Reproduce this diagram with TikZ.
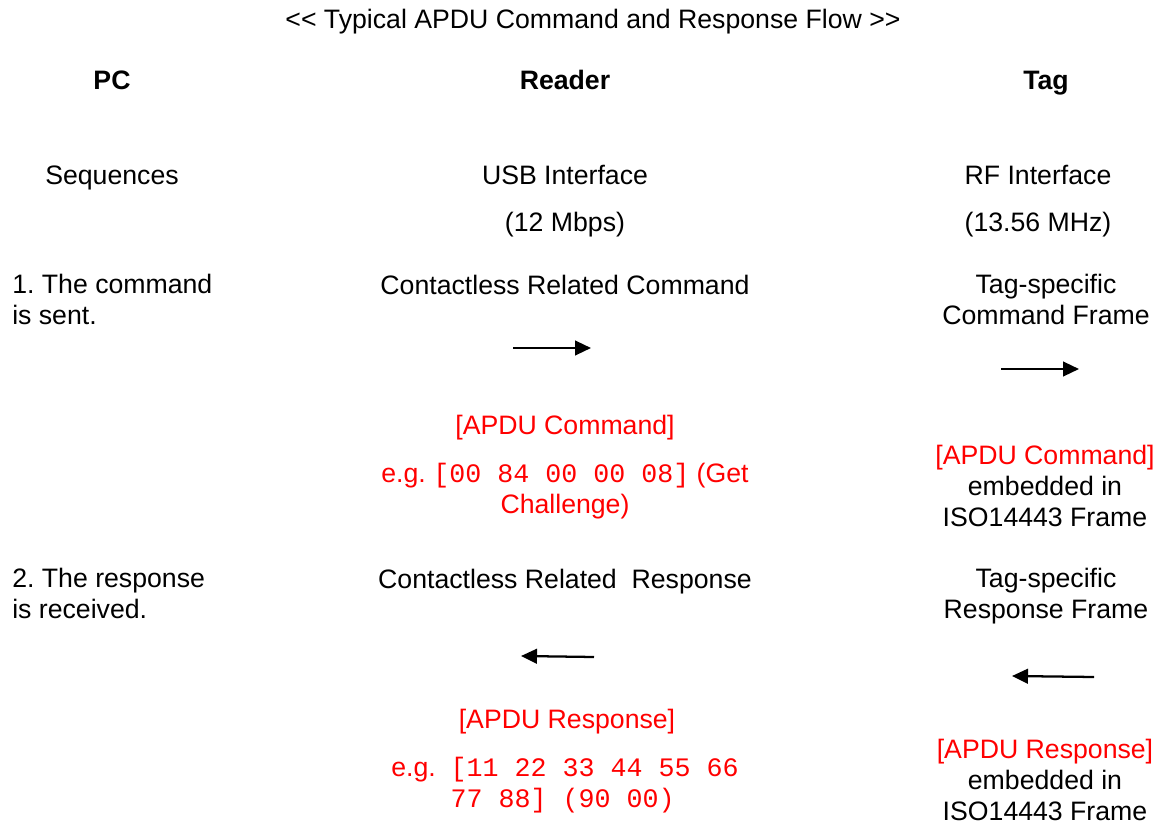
\documentclass[tikz,border=0pt]{standalone}
\usepackage{fontspec}
\setmainfont{Liberation Sans}
\setmonofont{Liberation Mono}
\usetikzlibrary{arrows.meta}
\definecolor{apduRed}{HTML}{FF0000}
\frenchspacing

\begin{document}
\begin{tikzpicture}[x=0.75pt,y=-0.75pt,>={Triangle[length=12pt,width=11pt]},
  txt/.style={font=\fontsize{20}{23.2}\selectfont,inner sep=0pt,anchor=base,align=center},
  hd/.style={txt,font=\fontsize{20}{23.2}\selectfont\bfseries},
  apdu/.style={txt,text=apduRed},
  flow/.style={line width=1.7pt,->}]
  \useasboundingbox (0,0) rectangle (1161,824);
  \node[txt] (title) at (593,29) {\textless\kern0pt\textless\ Typical APDU Command and Response Flow \textgreater\kern0pt\textgreater};
  \node[hd] (pc) at (112,90) {PC};
  \node[hd] (reader) at (565,90) {Reader};
  \node[hd] (tag) at (1046,90) {Tag};
  \node[txt] (seq) at (112,184) {Sequences};
  \node[txt] (usb) at (565,184) {USB Interface};
  \node[txt] (rf) at (1038,184) {RF Interface};
  \node[txt] (usbrate) at (565,231) {(12 Mbps)};
  \node[txt] (rffreq) at (1038,231) {(13.56 MHz)};
  \node[txt,anchor=base west,align=left] (step1) at (12,324) {1. The command\\is sent.};
  \node[txt] (cmd) at (565,294) {Contactless Related Command};
  \node[txt] (tagcmd) at (1046,324) {Tag-specific\\Command Frame};
  \node[apdu] (apducmd) at (565,434) {[APDU Command]};
  \node[apdu] (egcmd) at (565,513) {e.g. \texttt{[00 84 00 00 08]} (Get\\Challenge)};
  \node[txt] (tagapducmd) at (1045,526) {\textcolor{apduRed}{[APDU Command]}\\embedded in\\ISO14443 Frame};
  \node[txt,anchor=base west,align=left] (step2) at (12,618) {2. The response\\is received.};
  \node[txt] (rsp) at (565,588) {Contactless Related\ \ Response};
  \node[txt] (tagrsp) at (1046,618) {Tag-specific\\Response Frame};
  \node[apdu] (apdursp) at (567,728) {[APDU Response]};
  \node[apdu,anchor=base west,align=left] (egrsp) at (391,807)
    {e.g.\ \ \texttt{[11 22 33 44 55 66}\\\phantom{e.g.\ \ }\texttt{77 88] (90 00)}};
  \node[txt] (tagapdursp) at (1045,820) {\textcolor{apduRed}{[APDU Response]}\\embedded in\\ISO14443 Frame};
  \coordinate (usbcmdA) at (513,348);
  \coordinate (usbcmdB) at (591,348);
  \coordinate (rfcmdA) at (1001,369);
  \coordinate (rfcmdB) at (1079,369);
  \coordinate (usbrspA) at (594,657);
  \coordinate (usbrspB) at (521,656);
  \coordinate (rfrspA) at (1094,677);
  \coordinate (rfrspB) at (1012,676);
  \draw[flow] (usbcmdA) -- (usbcmdB);
  \draw[flow] (rfcmdA) -- (rfcmdB);
  \draw[flow] (usbrspA) -- (usbrspB);
  \draw[flow] (rfrspA) -- (rfrspB);
\end{tikzpicture}
\end{document}
